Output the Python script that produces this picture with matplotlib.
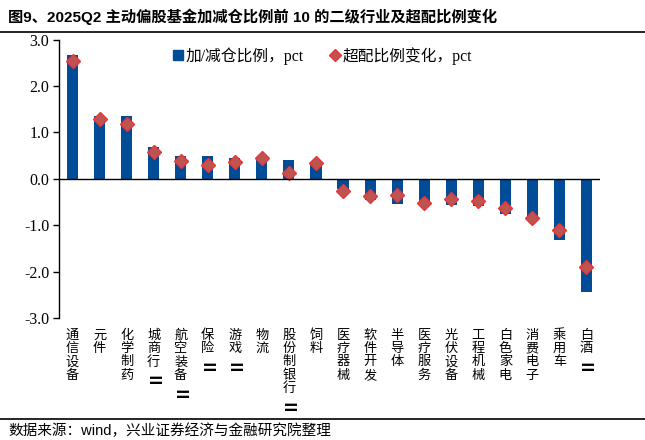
import matplotlib
matplotlib.use("Agg")
import matplotlib.pyplot as plt
from matplotlib.lines import Line2D
import matplotlib.transforms as mtransforms

categories = ["通信设备", "元件", "化学制药", "城商行Ⅱ", "航空装备Ⅱ", "保险Ⅱ", "游戏Ⅱ", "物流",
              "股份制银行Ⅱ", "饲料", "医疗器械", "软件开发", "半导体", "医疗服务", "光伏设备",
              "工程机械", "白色家电", "消费电子", "乘用车", "白酒Ⅱ"]
position_change = [2.67, 1.36, 1.36, 0.69, 0.50, 0.50, 0.45, 0.45, 0.41, 0.37,
                   -0.22, -0.45, -0.54, -0.50, -0.56, -0.58, -0.75, -0.92, -1.33, -2.43]
overweight_change = [2.53, 1.28, 1.18, 0.57, 0.39, 0.29, 0.37, 0.45, 0.12, 0.34,
                     -0.265, -0.365, -0.34, -0.52, -0.44, -0.49, -0.63, -0.845, -1.10, -1.90]
yticks = [-3.0, -2.0, -1.0, 0.0, 1.0, 2.0, 3.0]
legend_labels = ["加/减仓比例，pct", "超配比例变化，pct"]
title = "图9、2025Q2 主动偏股基金加减仓比例前 10 的二级行业及超配比例变化"
source = "数据来源：wind，兴业证券经济与金融研究院整理"

plt.rcParams['font.family'] = ['Liberation Serif', 'Noto Sans CJK SC', 'DejaVu Sans']

fig = plt.figure(figsize=(6.45, 4.4), dpi=100)
ax = fig.add_axes([59/645, 1-318/440, (600-59)/645, (318-39.5)/440])

x = list(range(len(categories)))
bar_color = '#004C97'
ax.bar(x, position_change, width=0.41, color=bar_color, zorder=2)
ax.plot(x, overweight_change, linestyle='none', marker='D', markersize=7.5,
        markerfacecolor='#BE5450', markeredgecolor='#E8353A', markeredgewidth=1.0, zorder=3)

ax.set_xlim(-0.5, len(categories) - 0.5)
ax.set_ylim(-3, 3)
ax.set_yticks(yticks)
ax.set_yticklabels([f"{v:.1f}" for v in yticks], fontsize=11.5, family=['Liberation Serif'])
ax.tick_params(axis='y', direction='out', length=4, width=1.0, pad=3)
ax.set_xticks([])
for s in ['top', 'right', 'bottom']:
    ax.spines[s].set_visible(False)
ax.spines['left'].set_linewidth(1.0)
ax.axhline(0, color='black', linewidth=1.0, zorder=4)

# vertical stacked category labels (one character per line)
step_pt = 9.7
top_y = 1 - 335/440
for i, c in enumerate(categories):
    for j, ch in enumerate(c):
        tr = mtransforms.blended_transform_factory(ax.transData, fig.transFigure) + \
             mtransforms.ScaledTranslation(0, -j * step_pt / 72, fig.dpi_scale_trans)
        is_roman = ch == 'Ⅱ'
        ax.text(i, top_y, ch, ha='center', va='center', fontsize=11 if is_roman else 9.5,
                rotation=90 if is_roman else 0, fontweight='bold' if is_roman else 'normal',
                family=['Noto Sans CJK SC'], transform=tr, clip_on=False)

handles = [Line2D([], [], linestyle='none', marker='s', markersize=7, color=bar_color),
           Line2D([], [], linestyle='none', marker='D', markersize=6,
                  markerfacecolor='#BE5450', markeredgecolor='#E8353A')]
fig.legend(handles, legend_labels, loc='center', bbox_to_anchor=(0.5, 1-56/440), ncol=2,
           frameon=False, handlelength=0.6, handletextpad=0.2, columnspacing=1.7,
           prop={'family': ['Liberation Serif', 'Noto Sans CJK SC'], 'size': 11.3})

fig.text(8/645, 1-17/440, title, ha='left', va='center', fontsize=11, fontweight='bold',
         family=['Liberation Sans', 'Noto Sans CJK SC'])
fig.add_artist(Line2D([0, 1], [1-32/440, 1-32/440], color='black', linewidth=1.2, transform=fig.transFigure))
fig.add_artist(Line2D([0, 1], [1-419/440, 1-419/440], color='black', linewidth=1.2, transform=fig.transFigure))
fig.text(8/645, 1-431/440, source, ha='left', va='center', fontsize=10.5,
         family=['Liberation Sans', 'Noto Sans CJK SC'])

fig.savefig("out.png", dpi=100)
